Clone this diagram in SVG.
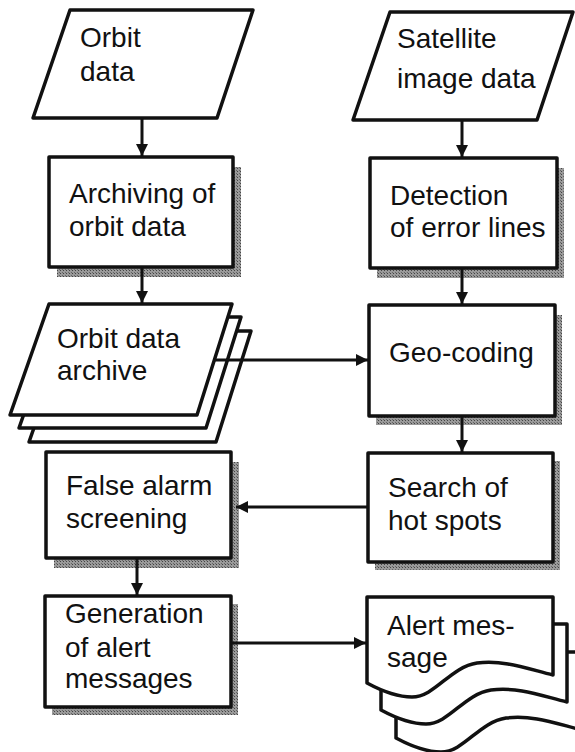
<svg xmlns="http://www.w3.org/2000/svg" width="575" height="752" viewBox="0 0 575 752">
<style>
.box{fill:#fff;stroke:#111;stroke-width:3.5;stroke-linejoin:round}
.sh{fill:url(#stip)}
.t{font-family:"Liberation Sans",Arial,Helvetica,sans-serif;font-size:28px;fill:#111}
.c{stroke:#111;stroke-width:3;fill:none;marker-end:url(#ah)}
</style>
<defs>
<pattern id="stip" width="3" height="3" patternUnits="userSpaceOnUse">
<rect width="3" height="3" fill="#9a9a9a"/>
<rect width="1" height="1" fill="#444"/>
<rect x="2" y="2" width="1" height="1" fill="#666"/>
</pattern>
<marker id="ah" viewBox="0 0 12 12" refX="12" refY="6" markerWidth="12" markerHeight="12" markerUnits="userSpaceOnUse" orient="auto">
<path d="M0,0 L12,6 L0,12 Z" fill="#111"/>
</marker>
<path id="doc" d="M367,597 H553 V675 C525,668 505,660 477,663 C450,667 435,697 412,697 C395,697 380,690 367,683 Z"/>
<path id="arc" d="M49,304 H232 L197,415 H10 Z"/>
</defs>
<rect width="575" height="752" fill="#fff"/>

<g id="orbit-data">
<path class="box" d="M70,10 H253 L217,118 H33 Z"/>
<text class="t" x="80" y="47">Orbit</text>
<text class="t" x="80" y="81">data</text>
</g>

<g id="satellite-data">
<path class="box" d="M390,12 H573 L537,120 H353 Z"/>
<text class="t" x="397" y="48">Satellite</text>
<text class="t" x="397" y="88">image data</text>
</g>

<g id="archiving">
<rect class="sh" x="57" y="167" width="184" height="110"/>
<rect class="box" x="49" y="157" width="184" height="110"/>
<text class="t" x="69" y="203">Archiving of</text>
<text class="t" x="69" y="236">orbit data</text>
</g>

<g id="detection">
<rect class="sh" x="377" y="168" width="187" height="110"/>
<rect class="box" x="370" y="158" width="187" height="110"/>
<text class="t" x="390" y="205">Detection</text>
<text class="t" x="390" y="237">of error lines</text>
</g>

<g id="archive">
<use href="#arc" class="box" transform="translate(19,27)"/>
<use href="#arc" class="box" transform="translate(9,13)"/>
<use href="#arc" class="box"/>
<text class="t" x="57" y="348">Orbit data</text>
<text class="t" x="57" y="380">archive</text>
</g>

<g id="geocoding">
<rect class="sh" x="376" y="315" width="186" height="110"/>
<rect class="box" x="369" y="305" width="186" height="111"/>
<text class="t" x="389" y="362">Geo-coding</text>
</g>

<g id="false-alarm">
<rect class="sh" x="54" y="462" width="185" height="106"/>
<rect class="box" x="46" y="452" width="185" height="106"/>
<text class="t" x="66" y="495">False alarm</text>
<text class="t" x="66" y="528">screening</text>
</g>

<g id="search">
<rect class="sh" x="375" y="461" width="185" height="109"/>
<rect class="box" x="368" y="453" width="185" height="109"/>
<text class="t" x="388" y="497">Search of</text>
<text class="t" x="388" y="530">hot spots</text>
</g>

<g id="generation">
<rect class="sh" x="52" y="604" width="186" height="111"/>
<rect class="box" x="45" y="596" width="186" height="111"/>
<text class="t" x="65" y="623">Generation</text>
<text class="t" x="65" y="657">of alert</text>
<text class="t" x="65" y="688">messages</text>
</g>

<g id="alert-message">
<use href="#doc" class="box" transform="translate(29,55)"/>
<use href="#doc" class="box" transform="translate(14,27)"/>
<use href="#doc" class="box"/>
<text class="t" x="387" y="635">Alert mes-</text>
<text class="t" x="387" y="667">sage</text>
</g>

<g id="connectors">
<line class="c" x1="142" y1="118" x2="142" y2="156"/>
<line class="c" x1="142" y1="267" x2="142" y2="303"/>
<line class="c" x1="462" y1="120" x2="462" y2="157"/>
<line class="c" x1="462" y1="268" x2="462" y2="304"/>
<line class="c" x1="213" y1="360" x2="368" y2="360"/>
<line class="c" x1="462" y1="416" x2="462" y2="452"/>
<line class="c" x1="368" y1="507" x2="236" y2="507"/>
<line class="c" x1="137" y1="558" x2="137" y2="595"/>
<line class="c" x1="231" y1="643" x2="366" y2="643"/>
</g>
</svg>
